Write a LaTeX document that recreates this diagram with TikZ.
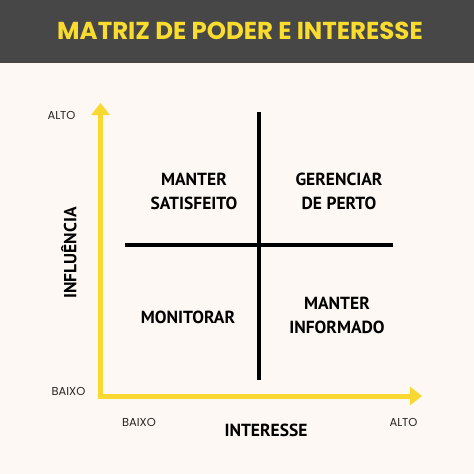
\documentclass[tikz,border=0pt]{standalone}
\usepackage{fontspec}
\setmainfont{PT Sans}
\newfontfamily\titlefont{Poppins}
\usetikzlibrary{arrows.meta}
\definecolor{bgcream}{HTML}{FDF8F3}
\definecolor{bardark}{HTML}{474747}
\definecolor{axisyellow}{HTML}{F9D832}
\definecolor{titleyellow}{HTML}{F9DC2E}
\tikzset{
  quad/.style={font=\bfseries\fontsize{17.5}{20}\selectfont, align=center, text=black, inner sep=0pt},
  small/.style={font=\titlefont\fontsize{11.5}{13}\selectfont, text=black!85, inner sep=0pt},
  axislabel/.style={font=\bfseries\fontsize{17.5}{20}\selectfont, text=black, inner sep=0pt},
  axisline/.style={line width=5pt, draw=axisyellow, -{Triangle[length=12pt,width=18pt]}},
  crossline/.style={line width=4pt, draw=black}
}
\begin{document}
\begin{tikzpicture}[x=1pt,y=-1pt]
\useasboundingbox (0,0) rectangle (474,474);
\fill[bgcream] (0,0) rectangle (474,474);
\fill[bardark] (0,0) rectangle (474,63);
\node[font=\titlefont\bfseries\fontsize{24.5}{28}\selectfont, text=titleyellow] (title) at (240,31) {MATRIZ DE PODER E INTERESSE};
% axes
\coordinate (origin) at (100.5,396);
\coordinate (ytip) at (100.5,103);
\coordinate (xtip) at (422,396);
\draw[axisline] (origin) ++(0,2.5) -- (ytip);
\draw[axisline] (origin) ++(-2.5,0) -- (xtip);
% cross
\coordinate (vtop) at (259,112);
\coordinate (vbot) at (259,380);
\coordinate (hl) at (125,245);
\coordinate (hr) at (393,245);
\draw[crossline] (vtop) -- (vbot);
\draw[crossline] (hl) -- (hr);
% quadrant labels
\node[quad] (q1) at (194,191.5) {MANTER\\[4pt]SATISFEITO};
\node[quad] (q2) at (339,191.5) {GERENCIAR\\[4pt]DE PERTO};
\node[quad] (q3) at (188,317) {MONITORAR};
\node[quad] (q4) at (337,315.5) {MANTER\\[4pt]INFORMADO};
% axis labels
\node[axislabel] (xlab) at (266,430) {INTERESSE};
\node[axislabel, rotate=90] (ylab) at (69,253) {INFLUÊNCIA};
\node[small] (yhigh) at (61.5,115) {ALTO};
\node[small] (ylow) at (68.5,391) {BAIXO};
\node[small] (xlow) at (139,422) {BAIXO};
\node[small] (xhigh) at (403.5,422) {ALTO};
\end{tikzpicture}
\end{document}
